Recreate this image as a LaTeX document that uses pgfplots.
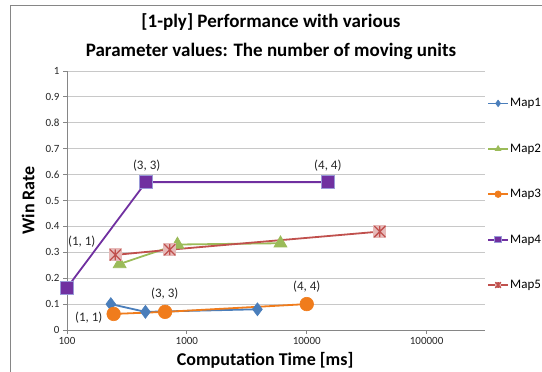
\documentclass[border=0pt]{standalone}
\usepackage{fontspec}
\setmainfont{Carlito}
\usepackage{pgfplots}
\pgfplotsset{compat=1.18}
\definecolor{m1}{HTML}{4A7EBB}
\definecolor{m2}{HTML}{9BBB59}
\definecolor{m3}{HTML}{F07C1C}
\definecolor{m4}{HTML}{7030A0}
\definecolor{m4edge}{HTML}{9A9AD8}
\definecolor{m5}{HTML}{C0504D}
\definecolor{m5pink}{HTML}{E6B9B8}
\definecolor{axisgray}{HTML}{868686}
\definecolor{gridgray}{HTML}{C8C8C8}
\pgfdeclareplotmark{sqstar}{%
  \pgfpathrectangle{\pgfqpoint{-\pgfplotmarksize}{-\pgfplotmarksize}}{\pgfqpoint{2\pgfplotmarksize}{2\pgfplotmarksize}}%
  \pgfsetfillcolor{m5pink}\pgfusepathqfill
  \pgfsetstrokecolor{m5}\pgfsetlinewidth{1.3pt}%
  \pgfpathmoveto{\pgfqpoint{-0.85\pgfplotmarksize}{-0.85\pgfplotmarksize}}\pgfpathlineto{\pgfqpoint{0.85\pgfplotmarksize}{0.85\pgfplotmarksize}}%
  \pgfpathmoveto{\pgfqpoint{-0.85\pgfplotmarksize}{0.85\pgfplotmarksize}}\pgfpathlineto{\pgfqpoint{0.85\pgfplotmarksize}{-0.85\pgfplotmarksize}}%
  \pgfpathmoveto{\pgfqpoint{0pt}{-0.85\pgfplotmarksize}}\pgfpathlineto{\pgfqpoint{0pt}{0.85\pgfplotmarksize}}%
  \pgfusepathqstroke}
\begin{document}
\begin{tikzpicture}[x=1pt,y=1pt]
\useasboundingbox (0,0) rectangle (542,372);
\draw[axisgray, line width=1pt] (10,0) -- (10,366) -- (542,366);
\node[font=\fontsize{19}{29}\selectfont\bfseries, align=center] at (271,335) {[1-ply] Performance with various\\Parameter values: The number of moving units};
\begin{axis}[
  at={(67pt,42pt)}, anchor=south west,
  scale only axis, width=418pt, height=259pt,
  xmode=log, xmin=100, xmax=307000, ymin=0, ymax=1,
  axis x line*=bottom, axis y line*=left,
  axis line style={draw=axisgray, line width=0.8pt},
  xtick={100,1000,10000,100000}, xticklabels={100,1000,10000,100000},
  xminorticks=false,
  ytick={0,0.1,0.2,0.3,0.4,0.5,0.6,0.7,0.8,0.9,1},
  yticklabels={0,0.1,0.2,0.3,0.4,0.5,0.6,0.7,0.8,0.9,1},
  ymajorgrids, grid style={draw=gridgray, line width=0.8pt},
  tick align=outside, major tick length=4pt,
  tick style={draw=axisgray, line width=0.8pt},
  tick label style={font=\fontsize{11}{13}\selectfont, text=black!85},
  xlabel={Computation Time [ms]}, ylabel={Win Rate},
  xlabel style={at={(axis description cs:0.474,-0.116)}, anchor=center, font=\fontsize{18}{21}\selectfont\bfseries},
  ylabel style={at={(axis description cs:-0.093,0.5)}, anchor=center, font=\fontsize{18}{21}\selectfont\bfseries},
  legend style={at={(axis description cs:1.0048,0.9015)}, anchor=north west, draw=none, fill=none, inner sep=0pt, row sep=32pt,
    font=\fontsize{13}{15}\selectfont, nodes={inner sep=1.2pt, text height=9pt, text depth=2pt}},
  legend cell align=left,
  legend image code/.code={\draw[mark repeat=2, mark phase=2, #1, mark size=3.3pt] plot coordinates {(0pt,0pt)(10pt,0pt)(20pt,0pt)};},
  clip=false,
]
\addplot[m1, line width=1.8pt, mark=diamond*, mark size=6.5pt, mark options={fill=m1, draw=m1, line width=0.6pt}]
  coordinates {(232,0.10) (451,0.07) (3880,0.08)};
\addlegendentry{Map1}
\addplot[m2, line width=1.8pt, mark=triangle*, mark size=7.5pt, mark options={fill=m2, draw=m2, line width=0.6pt}]
  coordinates {(275,0.255) (834,0.33) (6040,0.335)};
\addlegendentry{Map2}
\addplot[m3, line width=1.8pt, mark=*, mark size=6.8pt, mark options={fill=m3, draw=m3, line width=0.6pt}]
  coordinates {(245,0.062) (658,0.07) (10000,0.10)};
\addlegendentry{Map3}
\addplot[m4, line width=1.8pt, mark=square*, mark size=6.3pt, mark options={fill=m4, draw=m4edge, line width=1pt}]
  coordinates {(100,0.163) (456,0.571) (15100,0.571)};
\addlegendentry{Map4}
\addplot[m5, line width=1.8pt, mark=sqstar, mark size=6.5pt]
  coordinates {(253,0.29) (720,0.31) (40700,0.38)};
\addlegendentry{Map5}
\begin{scope}[every node/.style={font=\fontsize{13}{15}\selectfont, text=black!85}]
\node at (axis cs:132.7,0.340) {(1, 1)};
\node at (axis cs:462,0.633) {(3, 3)};
\node at (axis cs:15000,0.633) {(4, 4)};
\node at (axis cs:152,0.046) {(1, 1)};
\node at (axis cs:654,0.139) {(3, 3)};
\node at (axis cs:10000,0.166) {(4, 4)};
\end{scope}
\end{axis}
\end{tikzpicture}
\end{document}
